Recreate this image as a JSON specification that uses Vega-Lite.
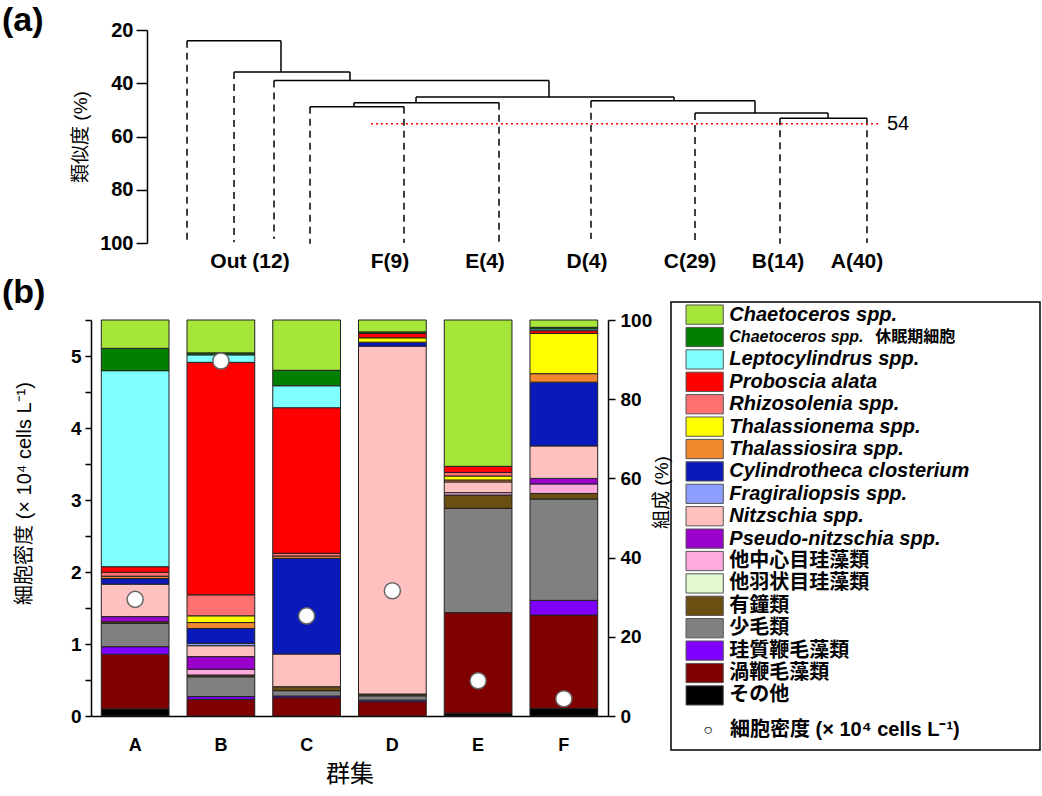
{
  "$schema": "https://vega.github.io/schema/vega-lite/v6.json",
  "background": "white",
  "padding": {"left": 2, "top": 4, "right": 0, "bottom": 0},
  "config": {
    "font": "Liberation Sans, Noto Sans CJK JP",
    "view": {"stroke": null},
    "axis": {"domainColor": "black", "tickColor": "black", "labelColor": "black", "titleColor": "black", "grid": false, "domainWidth": 1.5, "tickWidth": 1.5},
    "title": {"color": "black"}
  },
  "datasets": {
    "segs": [
      {"x": 11.57, "x2": 22.89, "y": 24.0, "y2": 24.0},
      {"x": 17.23, "x2": 31.20, "y": 35.8, "y2": 35.8},
      {"x": 22.05, "x2": 55.18, "y": 39.0, "y2": 39.0},
      {"x": 39.16, "x2": 70.24, "y": 45.2, "y2": 45.2},
      {"x": 31.69, "x2": 49.16, "y": 47.3, "y2": 47.3},
      {"x": 26.39, "x2": 37.71, "y": 48.8, "y2": 48.8},
      {"x": 60.24, "x2": 80.0, "y": 46.6, "y2": 46.6},
      {"x": 72.77, "x2": 88.80, "y": 51.2, "y2": 51.2},
      {"x": 83.01, "x2": 93.49, "y": 53.1, "y2": 53.1},
      {"x": 22.89, "x2": 22.89, "y": 24.0, "y2": 35.8},
      {"x": 31.20, "x2": 31.20, "y": 35.8, "y2": 39.0},
      {"x": 55.18, "x2": 55.18, "y": 39.0, "y2": 45.2},
      {"x": 70.24, "x2": 70.24, "y": 45.2, "y2": 46.6},
      {"x": 39.16, "x2": 39.16, "y": 45.2, "y2": 47.3},
      {"x": 31.69, "x2": 31.69, "y": 47.3, "y2": 48.8},
      {"x": 80.0, "x2": 80.0, "y": 46.6, "y2": 51.2},
      {"x": 88.80, "x2": 88.80, "y": 51.2, "y2": 53.1}
    ],
    "leaves": [
      {"x": 11.57, "y": 24.0, "y2": 99.5},
      {"x": 17.23, "y": 35.8, "y2": 99.7},
      {"x": 22.05, "y": 39.0, "y2": 98.5},
      {"x": 26.39, "y": 48.8, "y2": 100.3},
      {"x": 37.71, "y": 48.8, "y2": 100},
      {"x": 49.16, "y": 47.3, "y2": 99.5},
      {"x": 60.24, "y": 46.6, "y2": 98.5},
      {"x": 72.77, "y": 51.2, "y2": 99},
      {"x": 83.01, "y": 53.1, "y2": 100.3},
      {"x": 93.49, "y": 53.1, "y2": 100}
    ],
    "cut": [{"x": 33.73, "x2": 95.18, "y": 55.2, "label": "54"}],
    "leafLabels": [
      {"label": "Out (12)", "x": 19.16},
      {"label": "F(9)", "x": 36.02},
      {"label": "E(4)", "x": 47.47},
      {"label": "D(4)", "x": 59.76},
      {"label": "C(29)", "x": 72.17},
      {"label": "B(14)", "x": 82.77},
      {"label": "A(40)", "x": 92.29}
    ],
    "taxa": [
      {"taxon": "Chaetoceros spp."},
      {"taxon": "Chaetoceros spp. 休眠期細胞"},
      {"taxon": "Leptocylindrus spp."},
      {"taxon": "Proboscia alata"},
      {"taxon": "Rhizosolenia spp."},
      {"taxon": "Thalassionema spp."},
      {"taxon": "Thalassiosira spp."},
      {"taxon": "Cylindrotheca closterium"},
      {"taxon": "Fragiraliopsis spp."},
      {"taxon": "Nitzschia spp."},
      {"taxon": "Pseudo-nitzschia spp."},
      {"taxon": "他中心目珪藻類"},
      {"taxon": "他羽状目珪藻類"},
      {"taxon": "有鐘類"},
      {"taxon": "少毛類"},
      {"taxon": "珪質鞭毛藻類"},
      {"taxon": "渦鞭毛藻類"},
      {"taxon": "その他"}
    ],
    "density": [
      {"group": "A", "density": 1.62},
      {"group": "B", "density": 4.93},
      {"group": "C", "density": 1.39},
      {"group": "D", "density": 1.74},
      {"group": "E", "density": 0.49},
      {"group": "F", "density": 0.24}
    ],
    "bars": [
      {"group": "A", "taxon": "その他", "ord": 1, "pct": 1.8},
      {"group": "A", "taxon": "渦鞭毛藻類", "ord": 2, "pct": 13.8},
      {"group": "A", "taxon": "珪質鞭毛藻類", "ord": 3, "pct": 1.9},
      {"group": "A", "taxon": "少毛類", "ord": 4, "pct": 5.9},
      {"group": "A", "taxon": "有鐘類", "ord": 5, "pct": 0.4},
      {"group": "A", "taxon": "Pseudo-nitzschia spp.", "ord": 8, "pct": 1.3},
      {"group": "A", "taxon": "Nitzschia spp.", "ord": 9, "pct": 8.2},
      {"group": "A", "taxon": "Cylindrotheca closterium", "ord": 11, "pct": 1.4},
      {"group": "A", "taxon": "Thalassiosira spp.", "ord": 12, "pct": 0.6},
      {"group": "A", "taxon": "Rhizosolenia spp.", "ord": 14, "pct": 1.0},
      {"group": "A", "taxon": "Proboscia alata", "ord": 15, "pct": 1.4},
      {"group": "A", "taxon": "Leptocylindrus spp.", "ord": 16, "pct": 49.5},
      {"group": "A", "taxon": "Chaetoceros spp. 休眠期細胞", "ord": 17, "pct": 5.65},
      {"group": "A", "taxon": "Chaetoceros spp.", "ord": 18, "pct": 7.15},
      {"group": "B", "taxon": "渦鞭毛藻類", "ord": 2, "pct": 4.2},
      {"group": "B", "taxon": "珪質鞭毛藻類", "ord": 3, "pct": 0.7},
      {"group": "B", "taxon": "少毛類", "ord": 4, "pct": 5.0},
      {"group": "B", "taxon": "有鐘類", "ord": 5, "pct": 0.45},
      {"group": "B", "taxon": "他中心目珪藻類", "ord": 7, "pct": 1.45},
      {"group": "B", "taxon": "Pseudo-nitzschia spp.", "ord": 8, "pct": 3.2},
      {"group": "B", "taxon": "Nitzschia spp.", "ord": 9, "pct": 2.75},
      {"group": "B", "taxon": "Fragiraliopsis spp.", "ord": 10, "pct": 0.6},
      {"group": "B", "taxon": "Cylindrotheca closterium", "ord": 11, "pct": 3.75},
      {"group": "B", "taxon": "Thalassiosira spp.", "ord": 12, "pct": 1.5},
      {"group": "B", "taxon": "Thalassionema spp.", "ord": 13, "pct": 1.7},
      {"group": "B", "taxon": "Rhizosolenia spp.", "ord": 14, "pct": 5.3},
      {"group": "B", "taxon": "Proboscia alata", "ord": 15, "pct": 58.7},
      {"group": "B", "taxon": "Leptocylindrus spp.", "ord": 16, "pct": 1.9},
      {"group": "B", "taxon": "Chaetoceros spp. 休眠期細胞", "ord": 17, "pct": 0.5},
      {"group": "B", "taxon": "Chaetoceros spp.", "ord": 18, "pct": 8.3},
      {"group": "C", "taxon": "渦鞭毛藻類", "ord": 2, "pct": 4.6},
      {"group": "C", "taxon": "珪質鞭毛藻類", "ord": 3, "pct": 0.45},
      {"group": "C", "taxon": "少毛類", "ord": 4, "pct": 1.35},
      {"group": "C", "taxon": "有鐘類", "ord": 5, "pct": 1.0},
      {"group": "C", "taxon": "Nitzschia spp.", "ord": 9, "pct": 8.25},
      {"group": "C", "taxon": "Cylindrotheca closterium", "ord": 11, "pct": 24.15},
      {"group": "C", "taxon": "Thalassiosira spp.", "ord": 12, "pct": 0.6},
      {"group": "C", "taxon": "Rhizosolenia spp.", "ord": 14, "pct": 0.7},
      {"group": "C", "taxon": "Proboscia alata", "ord": 15, "pct": 36.75},
      {"group": "C", "taxon": "Leptocylindrus spp.", "ord": 16, "pct": 5.55},
      {"group": "C", "taxon": "Chaetoceros spp. 休眠期細胞", "ord": 17, "pct": 3.9},
      {"group": "C", "taxon": "Chaetoceros spp.", "ord": 18, "pct": 12.7},
      {"group": "D", "taxon": "渦鞭毛藻類", "ord": 2, "pct": 3.6},
      {"group": "D", "taxon": "珪質鞭毛藻類", "ord": 3, "pct": 0.4},
      {"group": "D", "taxon": "少毛類", "ord": 4, "pct": 1.1},
      {"group": "D", "taxon": "有鐘類", "ord": 5, "pct": 0.45},
      {"group": "D", "taxon": "Nitzschia spp.", "ord": 9, "pct": 87.85},
      {"group": "D", "taxon": "Cylindrotheca closterium", "ord": 11, "pct": 1.0},
      {"group": "D", "taxon": "Thalassionema spp.", "ord": 13, "pct": 1.1},
      {"group": "D", "taxon": "Proboscia alata", "ord": 15, "pct": 1.1},
      {"group": "D", "taxon": "Chaetoceros spp. 休眠期細胞", "ord": 17, "pct": 0.4},
      {"group": "D", "taxon": "Chaetoceros spp.", "ord": 18, "pct": 3.0},
      {"group": "E", "taxon": "その他", "ord": 1, "pct": 0.7},
      {"group": "E", "taxon": "渦鞭毛藻類", "ord": 2, "pct": 25.4},
      {"group": "E", "taxon": "少毛類", "ord": 4, "pct": 26.35},
      {"group": "E", "taxon": "有鐘類", "ord": 5, "pct": 3.35},
      {"group": "E", "taxon": "他中心目珪藻類", "ord": 7, "pct": 0.6},
      {"group": "E", "taxon": "Nitzschia spp.", "ord": 9, "pct": 2.7},
      {"group": "E", "taxon": "Thalassiosira spp.", "ord": 12, "pct": 0.5},
      {"group": "E", "taxon": "Thalassionema spp.", "ord": 13, "pct": 1.0},
      {"group": "E", "taxon": "Rhizosolenia spp.", "ord": 14, "pct": 0.9},
      {"group": "E", "taxon": "Proboscia alata", "ord": 15, "pct": 1.55},
      {"group": "E", "taxon": "Chaetoceros spp.", "ord": 18, "pct": 36.95},
      {"group": "F", "taxon": "その他", "ord": 1, "pct": 1.9},
      {"group": "F", "taxon": "渦鞭毛藻類", "ord": 2, "pct": 23.6},
      {"group": "F", "taxon": "珪質鞭毛藻類", "ord": 3, "pct": 3.7},
      {"group": "F", "taxon": "少毛類", "ord": 4, "pct": 25.6},
      {"group": "F", "taxon": "有鐘類", "ord": 5, "pct": 1.4},
      {"group": "F", "taxon": "他中心目珪藻類", "ord": 7, "pct": 2.4},
      {"group": "F", "taxon": "Pseudo-nitzschia spp.", "ord": 8, "pct": 1.4},
      {"group": "F", "taxon": "Nitzschia spp.", "ord": 9, "pct": 8.2},
      {"group": "F", "taxon": "Cylindrotheca closterium", "ord": 11, "pct": 16.1},
      {"group": "F", "taxon": "Thalassiosira spp.", "ord": 12, "pct": 2.15},
      {"group": "F", "taxon": "Thalassionema spp.", "ord": 13, "pct": 10.15},
      {"group": "F", "taxon": "Proboscia alata", "ord": 15, "pct": 0.7},
      {"group": "F", "taxon": "Leptocylindrus spp.", "ord": 16, "pct": 0.45},
      {"group": "F", "taxon": "Chaetoceros spp. 休眠期細胞", "ord": 17, "pct": 0.4},
      {"group": "F", "taxon": "Chaetoceros spp.", "ord": 18, "pct": 1.85}
    ]
  },
  "bounds": "flush",
  "spacing": 59,
  "vconcat": [
    {
      "width": 830,
      "height": 213,
      "title": {"text": "(a)", "anchor": "start", "frame": "group", "orient": "top", "fontSize": 34, "fontWeight": "bold", "dx": -89, "offset": 0, "dy": 18},
      "layer": [
        {
          "data": {"name": "segs"},
          "mark": {"type": "rule", "color": "black", "strokeWidth": 1.5},
          "encoding": {
            "x": {"field": "x", "type": "quantitative", "scale": {"domain": [0, 100], "nice": false}, "axis": null},
            "x2": {"field": "x2"},
            "y": {"field": "y", "type": "quantitative", "scale": {"domain": [20, 100], "reverse": true, "nice": false, "zero": false},
              "axis": {"orient": "left", "offset": -56, "values": [20, 40, 60, 80, 100], "tickSize": 11, "labelFontSize": 20, "labelFontWeight": "bold", "labelPadding": 3, "title": "類似度 (%)", "titleFontSize": 19, "titleFontWeight": "normal", "titlePadding": 9}},
            "y2": {"field": "y2"}
          }
        },
        {
          "data": {"name": "leaves"},
          "mark": {"type": "rule", "color": "black", "strokeWidth": 1.5, "strokeDash": [7, 5]},
          "encoding": {
            "x": {"field": "x", "type": "quantitative"},
            "y": {"field": "y", "type": "quantitative"},
            "y2": {"field": "y2"}
          }
        },
        {
          "data": {"name": "cut"},
          "mark": {"type": "rule", "color": "#FF0000", "strokeWidth": 1.5, "strokeDash": [2, 3]},
          "encoding": {
            "x": {"field": "x", "type": "quantitative"},
            "x2": {"field": "x2"},
            "y": {"field": "y", "type": "quantitative"}
          }
        },
        {
          "data": {"name": "cut"},
          "mark": {"type": "text", "align": "left", "baseline": "middle", "dx": 6, "fontSize": 20, "color": "black"},
          "encoding": {
            "x": {"field": "x2", "type": "quantitative"},
            "y": {"field": "y", "type": "quantitative"},
            "text": {"field": "label"}
          }
        },
        {
          "data": {"name": "leafLabels"},
          "mark": {"type": "text", "align": "center", "baseline": "middle", "dy": 19, "fontSize": 21, "fontWeight": "bold", "color": "black"},
          "encoding": {
            "x": {"field": "x", "type": "quantitative"},
            "y": {"datum": 100, "type": "quantitative"},
            "text": {"field": "label"}
          }
        }
      ]
    },
    {
      "bounds": "flush",
      "spacing": 580,
      "hconcat": [
        {
          "bounds": "flush",
          "spacing": 0,
          "vconcat": [
            {
              "width": 517,
              "height": 18,
              "title": {"text": "(b)", "anchor": "start", "frame": "group", "orient": "top", "fontSize": 34, "fontWeight": "bold", "dx": -89, "offset": 0, "dy": 8},
              "data": {"values": [{"k": 1}]},
              "mark": {"type": "text", "text": ""}
            },
            {
              "width": 517,
              "height": 396,
              "layer": [
                {
                  "data": {"name": "bars"},
                  "mark": {"type": "bar", "stroke": "#222222", "strokeWidth": 1},
                  "encoding": {
                    "x": {"field": "group", "type": "nominal", "scale": {"paddingInner": 0.21, "paddingOuter": 0.12},
                      "axis": {"title": "群集", "titleFontSize": 24, "titleFontWeight": "normal", "titlePadding": 8, "labelFontSize": 18, "labelFontWeight": "bold", "labelAngle": 0, "labelPadding": 20, "ticks": false, "tickSize": 0}},
                    "y": {"field": "pct", "type": "quantitative", "stack": "zero", "scale": {"domain": [0, 100], "nice": false},
                      "axis": {"orient": "right", "values": [0, 20, 40, 60, 80, 100], "tickSize": 7, "labelFontSize": 19, "labelFontWeight": "bold", "labelPadding": 5, "title": "組成 (%)", "titleAngle": -90, "titleAlign": "center", "titleFontSize": 19, "titleFontWeight": "normal", "titlePadding": 20, "titleY": 172}},
                    "color": {"field": "taxon", "type": "nominal",
                      "scale": {
                        "domain": ["Chaetoceros spp.", "Chaetoceros spp. 休眠期細胞", "Leptocylindrus spp.", "Proboscia alata", "Rhizosolenia spp.", "Thalassionema spp.", "Thalassiosira spp.", "Cylindrotheca closterium", "Fragiraliopsis spp.", "Nitzschia spp.", "Pseudo-nitzschia spp.", "他中心目珪藻類", "他羽状目珪藻類", "有鐘類", "少毛類", "珪質鞭毛藻類", "渦鞭毛藻類", "その他"],
                        "range": ["#A6E63B", "#007F00", "#80FFFF", "#FF0000", "#FF7070", "#FFFF00", "#F0882E", "#0A1ABA", "#8C9EFF", "#FFC0C0", "#9900CC", "#FFAADD", "#E2F8D0", "#6B4E12", "#808080", "#8000FF", "#800000", "#000000"]
                      },
                      "legend": null},
                    "order": {"field": "ord", "type": "quantitative", "sort": "ascending"}
                  }
                },
                {
                  "data": {"name": "density"},
                  "mark": {"type": "point", "shape": "circle", "filled": true, "fill": "white", "stroke": "#666666", "strokeWidth": 1.5, "size": 260, "opacity": 1},
                  "encoding": {
                    "x": {"field": "group", "type": "nominal"},
                    "y": {"field": "density", "type": "quantitative", "scale": {"domain": [0, 5.5], "nice": false},
                      "axis": {"orient": "left", "values": [0, 0.5, 1, 1.5, 2, 2.5, 3, 3.5, 4, 4.5, 5, 5.5], "labelExpr": "datum.value % 1 === 0 ? format(datum.value, 'd') : ''", "tickSize": 6, "labelFontSize": 19, "labelFontWeight": "bold", "labelPadding": 4, "title": "細胞密度 (× 10⁴ cells L⁻¹)", "titleAlign": "center", "titleFontSize": 20, "titleFontWeight": "normal", "titlePadding": 36, "titleY": 173}}
                  }
                }
              ],
              "resolve": {"scale": {"y": "independent"}}
            }
          ]
        },
        {
          "width": 369,
          "height": 448,
          "view": {"stroke": "black", "strokeWidth": 1.5},
          "data": {"name": "taxa"},
          "encoding": {
            "y": {"field": "taxon", "type": "nominal",
              "scale": {
                "domain": ["Chaetoceros spp.", "Chaetoceros spp. 休眠期細胞", "Leptocylindrus spp.", "Proboscia alata", "Rhizosolenia spp.", "Thalassionema spp.", "Thalassiosira spp.", "Cylindrotheca closterium", "Fragiraliopsis spp.", "Nitzschia spp.", "Pseudo-nitzschia spp.", "他中心目珪藻類", "他羽状目珪藻類", "有鐘類", "少毛類", "珪質鞭毛藻類", "渦鞭毛藻類", "その他", "細胞密度 (× 10⁴ cells L⁻¹)"],
                "paddingInner": 0.14, "paddingOuter": 0.57, "align": 0.117
              },
              "axis": null}
          },
          "layer": [
            {
              "mark": {"type": "rect", "stroke": "#555555", "strokeWidth": 1},
              "encoding": {
                "x": {"datum": 4.07, "type": "quantitative", "scale": {"domain": [0, 100], "nice": false}, "axis": null},
                "x2": {"datum": 14.17},
                "color": {"field": "taxon", "type": "nominal",
                  "scale": {
                    "domain": ["Chaetoceros spp.", "Chaetoceros spp. 休眠期細胞", "Leptocylindrus spp.", "Proboscia alata", "Rhizosolenia spp.", "Thalassionema spp.", "Thalassiosira spp.", "Cylindrotheca closterium", "Fragiraliopsis spp.", "Nitzschia spp.", "Pseudo-nitzschia spp.", "他中心目珪藻類", "他羽状目珪藻類", "有鐘類", "少毛類", "珪質鞭毛藻類", "渦鞭毛藻類", "その他"],
                    "range": ["#A6E63B", "#007F00", "#80FFFF", "#FF0000", "#FF7070", "#FFFF00", "#F0882E", "#0A1ABA", "#8C9EFF", "#FFC0C0", "#9900CC", "#FFAADD", "#E2F8D0", "#6B4E12", "#808080", "#8000FF", "#800000", "#000000"]
                  },
                  "legend": null}
              }
            },
            {
              "transform": [{"filter": {"field": "taxon", "oneOf": ["Chaetoceros spp.", "Leptocylindrus spp.", "Proboscia alata", "Rhizosolenia spp.", "Thalassionema spp.", "Thalassiosira spp.", "Cylindrotheca closterium", "Fragiraliopsis spp.", "Nitzschia spp.", "Pseudo-nitzschia spp."]}}],
              "mark": {"type": "text", "align": "left", "baseline": "middle", "fontSize": 20, "fontWeight": "bold", "fontStyle": "italic", "color": "black"},
              "encoding": {"x": {"datum": 15.8, "type": "quantitative"}, "text": {"field": "taxon"}}
            },
            {
              "transform": [{"filter": {"field": "taxon", "equal": "Chaetoceros spp. 休眠期細胞"}}],
              "mark": {"type": "text", "align": "left", "baseline": "middle", "fontSize": 16, "fontWeight": "bold", "fontStyle": "italic", "color": "black", "text": "Chaetoceros spp."},
              "encoding": {"x": {"datum": 15.8, "type": "quantitative"}}
            },
            {
              "transform": [{"filter": {"field": "taxon", "equal": "Chaetoceros spp. 休眠期細胞"}}],
              "mark": {"type": "text", "align": "left", "baseline": "middle", "fontSize": 16, "fontWeight": "bold", "dx": 146, "color": "black", "text": "休眠期細胞"},
              "encoding": {"x": {"datum": 15.8, "type": "quantitative"}}
            },
            {
              "transform": [{"filter": {"field": "taxon", "oneOf": ["他中心目珪藻類", "他羽状目珪藻類", "有鐘類", "少毛類", "珪質鞭毛藻類", "渦鞭毛藻類", "その他"]}}],
              "mark": {"type": "text", "align": "left", "baseline": "middle", "fontSize": 20, "fontWeight": "bold", "color": "black"},
              "encoding": {"x": {"datum": 15.8, "type": "quantitative"}, "text": {"field": "taxon"}}
            },
            {
              "data": {"values": [{"taxon": "細胞密度 (× 10⁴ cells L⁻¹)"}]},
              "mark": {"type": "text", "align": "center", "baseline": "middle", "fontSize": 16, "dy": 12, "color": "black", "text": "○"},
              "encoding": {"x": {"datum": 10.03, "type": "quantitative"}}
            },
            {
              "data": {"values": [{"taxon": "細胞密度 (× 10⁴ cells L⁻¹)"}]},
              "mark": {"type": "text", "align": "left", "baseline": "middle", "fontSize": 20, "fontWeight": "bold", "dy": 12, "color": "black"},
              "encoding": {"x": {"datum": 16.0, "type": "quantitative"}, "text": {"field": "taxon"}}
            }
          ]
        }
      ]
    }
  ]
}
